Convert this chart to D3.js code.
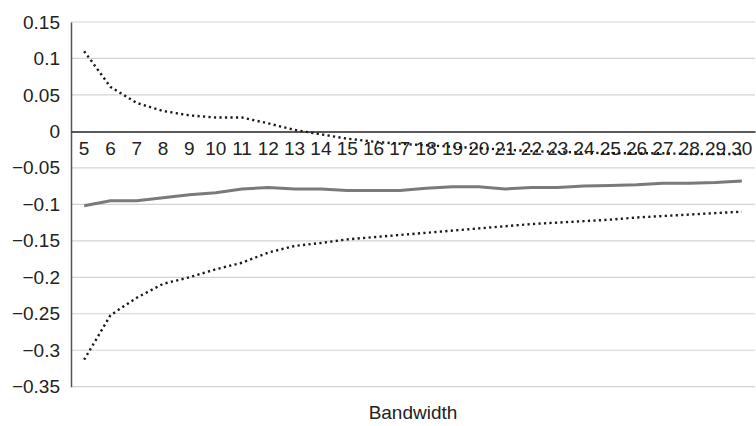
<!DOCTYPE html>
<html>
<head>
<meta charset="utf-8">
<script src="https://cdn.jsdelivr.net/npm/d3@7"></script>
<style>
  body { margin: 0; background: #fff; }
  text { font-family: "Liberation Sans", Arial, sans-serif; fill: #222; }
</style>
</head>
<body>
<svg id="chart" width="756" height="426"></svg>
<script>
// bandwidth categories
const bandwidths = [5, 6, 7, 8, 9, 10, 11, 12, 13, 14, 15, 16, 17, 18, 19, 20, 21, 22, 23, 24, 25, 26, 27, 28, 29, 30];
// upper confidence bound (dotted)
const upperBound = [0.110, 0.061, 0.039, 0.028, 0.022, 0.019, 0.019, 0.011, 0.002, -0.004, -0.010, -0.014, -0.017, -0.019, -0.021, -0.023, -0.025, -0.027, -0.028, -0.029, -0.030, -0.030, -0.030, -0.031, -0.031, -0.031];
// point estimate (solid)
const estimate = [-0.102, -0.095, -0.095, -0.091, -0.087, -0.084, -0.079, -0.077, -0.079, -0.079, -0.081, -0.081, -0.081, -0.078, -0.076, -0.076, -0.079, -0.077, -0.077, -0.075, -0.074, -0.073, -0.071, -0.071, -0.070, -0.068];
// lower confidence bound (dotted)
const lowerBound = [-0.313, -0.252, -0.228, -0.209, -0.200, -0.189, -0.180, -0.166, -0.157, -0.153, -0.148, -0.145, -0.142, -0.139, -0.136, -0.133, -0.130, -0.127, -0.125, -0.123, -0.121, -0.118, -0.116, -0.114, -0.112, -0.110];
const yTicks = [0.15, 0.1, 0.05, 0, -0.05, -0.1, -0.15, -0.2, -0.25, -0.3, -0.35];
const xTitle = "Bandwidth";

const svg = d3.select("#chart");
const margin = {top: 22, right: 1, bottom: 39.3, left: 71};
const width = 756 - margin.left - margin.right;
const height = 426 - margin.top - margin.bottom;

const chart = svg.append("g")
    .attr("transform", `translate(${margin.left},${margin.top})`);

const xScale = d3.scaleBand()
    .domain(bandwidths)
    .range([0, width]);

const yScale = d3.scaleLinear()
    .domain([-0.35, 0.15])
    .range([height, 0]);

const fmt = v => {
    const s = d3.format("")(Math.round(Math.abs(v) * 100) / 100);
    return (v < -1e-9 ? "\u2212" : "") + s;
};

// gridlines
chart.append("g")
    .selectAll("line")
    .data(yTicks.filter(d => d !== 0))
    .join("line")
    .attr("x1", 0)
    .attr("x2", width)
    .attr("y1", d => yScale(d))
    .attr("y2", d => yScale(d))
    .attr("stroke", "#d4d4d4")
    .attr("stroke-width", 1.2);

// y axis
const yAxis = chart.append("g")
    .call(d3.axisLeft(yScale).tickValues(yTicks).tickSize(0).tickPadding(11).tickFormat(fmt));
yAxis.select(".domain").attr("stroke", "#555").attr("stroke-width", 1.5);
yAxis.selectAll("text")
    .style("font-size", "19px")
    .style("font-family", "Liberation Sans, Arial, sans-serif")
    .attr("fill", "#222");

// x axis sitting on zero
const xAxis = chart.append("g")
    .attr("transform", `translate(0,${yScale(0)})`)
    .call(d3.axisBottom(xScale).tickSize(0).tickPadding(10));
xAxis.select(".domain").attr("stroke", "#222").attr("stroke-width", 1.5);
xAxis.selectAll("text")
    .style("font-size", "19px")
    .style("font-family", "Liberation Sans, Arial, sans-serif")
    .attr("fill", "#222");

const line = d3.line()
    .x((_, i) => xScale(bandwidths[i]) + xScale.bandwidth() / 2)
    .y(d => yScale(d));

chart.append("path")
    .datum(estimate)
    .attr("fill", "none")
    .attr("stroke", "#7a7a7a")
    .attr("stroke-width", 3)
    .attr("d", line);

[upperBound, lowerBound].forEach(series => {
    chart.append("path")
        .datum(series)
        .attr("fill", "none")
        .attr("stroke", "#1a1a1a")
        .attr("stroke-width", 2.4)
        .attr("stroke-dasharray", "2.2,3.3")
        .attr("d", line);
});

svg.append("text")
    .attr("x", margin.left + width / 2)
    .attr("y", 419)
    .attr("text-anchor", "middle")
    .style("font-size", "19px")
    .text(xTitle);
</script>
</body>
</html>
